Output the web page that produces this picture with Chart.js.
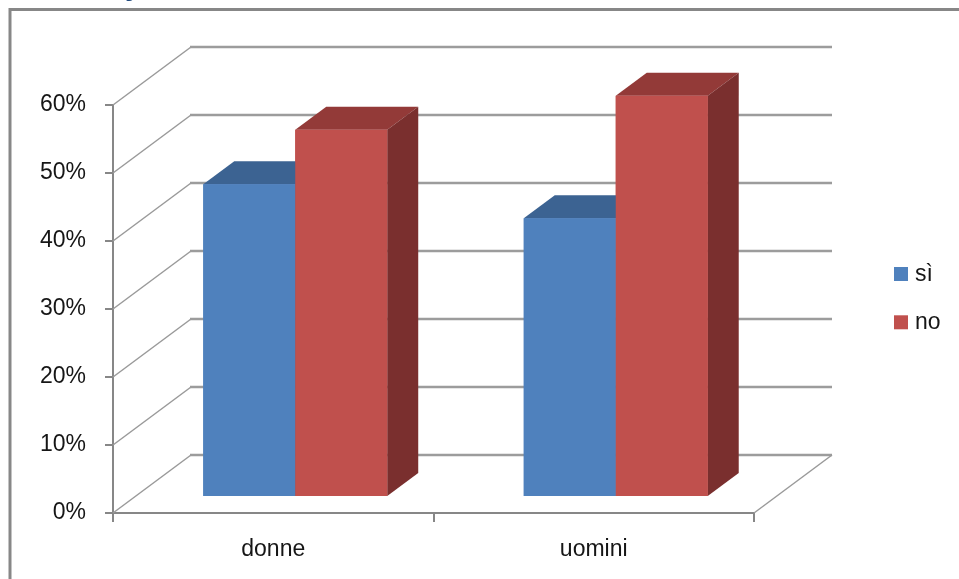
<!DOCTYPE html>
<html>
<head>
<meta charset="utf-8">
<script src="https://cdn.jsdelivr.net/npm/chart.js@4.4.1/dist/chart.umd.min.js"></script>
<style>
  html, body { margin: 0; padding: 0; background: #fff; }
  canvas { display: block; }
</style>
</head>
<body>
<canvas id="c" width="959" height="579"></canvas>
<script>
// Categories and series (percent of answers)
const categories = ['donne', 'uomini'];
const seriesLabels = ['sì', 'no'];
const siValues = [46, 41];
const noValues = [54, 59];

// Value axis: 0% .. 60% in steps of 10
const yMin = 0;
const yMax = 60;
const yStep = 10;
const tickSuffix = '%';

// Colours: front, top and side faces of each series
const frontColors = ['#4F81BD', '#C0504D'];
const topColors   = ['#3C6392', '#933A38'];
const sideColors  = ['#385D8A', '#7A2F2E'];

// Oblique projection offsets (pixels)
const wall = { dx: 78, dy: -58 };     // back wall relative to the front axes
const barShift = { dx: 22, dy: -16 }; // plane of the bar fronts
const barDepth = { dx: 31, dy: -23 }; // thickness of each column

const FONT = '"Liberation Sans", Arial, sans-serif';
const TEXT = '#161616';
const AXIS = '#878787';

const box3d = {
  id: 'box3d',
  beforeDraw(chart) {
    const ctx = chart.ctx;
    ctx.save();
    ctx.fillStyle = '#fff';
    ctx.fillRect(0, 0, chart.width, chart.height);
    // outer chart frame
    ctx.strokeStyle = '#878787';
    ctx.lineWidth = 3;
    ctx.strokeRect(10, 9.5, chart.width + 20, chart.height + 20);
    // tail of the title line above the frame
    ctx.fillStyle = '#1F497D';
    ctx.font = 'bold 30px ' + FONT;
    ctx.textBaseline = 'alphabetic';
    ctx.fillText('y', 125, -5);
    ctx.restore();
  },
  beforeDatasetsDraw(chart) {
    const { ctx, chartArea: a, scales: { y } } = chart;
    ctx.save();
    ctx.lineCap = 'butt';
    y.ticks.forEach(t => {
      const py = Math.round(y.getPixelForValue(t.value));
      // side wall diagonal
      ctx.strokeStyle = '#9a9a9a';
      ctx.lineWidth = 1.5;
      ctx.beginPath();
      ctx.moveTo(a.left, py);
      ctx.lineTo(a.left + wall.dx, py + wall.dy);
      ctx.stroke();
      // back wall gridline
      ctx.strokeStyle = '#9c9c9c';
      ctx.lineWidth = 2.5;
      ctx.beginPath();
      ctx.moveTo(a.left + wall.dx - 1, py + wall.dy);
      ctx.lineTo(a.right + wall.dx, py + wall.dy);
      ctx.stroke();
    });
    // right edge of the floor
    const p0 = y.getPixelForValue(yMin);
    ctx.strokeStyle = '#9a9a9a';
    ctx.lineWidth = 1.5;
    ctx.beginPath();
    ctx.moveTo(a.right, p0);
    ctx.lineTo(a.right + wall.dx, p0 + wall.dy);
    ctx.stroke();
    ctx.restore();

    // columns stand in a plane behind the front axes
    ctx.save();
    ctx.translate(barShift.dx, barShift.dy);
  },
  afterDatasetsDraw(chart) {
    const ctx = chart.ctx;
    chart.data.datasets.forEach((ds, i) => {
      const meta = chart.getDatasetMeta(i);
      meta.data.forEach(bar => {
        const p = bar.getProps(['x', 'y', 'base', 'width'], true);
        const l = p.x - p.width / 2, r = p.x + p.width / 2;
        const t = Math.min(p.y, p.base), b = Math.max(p.y, p.base);
        // top face
        ctx.fillStyle = topColors[i];
        ctx.beginPath();
        ctx.moveTo(l, t);
        ctx.lineTo(r, t);
        ctx.lineTo(r + barDepth.dx, t + barDepth.dy);
        ctx.lineTo(l + barDepth.dx, t + barDepth.dy);
        ctx.closePath();
        ctx.fill();
        // right side face
        ctx.fillStyle = sideColors[i];
        ctx.beginPath();
        ctx.moveTo(r, t);
        ctx.lineTo(r + barDepth.dx, t + barDepth.dy);
        ctx.lineTo(r + barDepth.dx, b + barDepth.dy);
        ctx.lineTo(r, b);
        ctx.closePath();
        ctx.fill();
        // front face on top
        ctx.fillStyle = frontColors[i];
        ctx.fillRect(l, t, r - l, b - t);
      });
    });
    ctx.restore();
  },
  afterDraw(chart) {
    const ctx = chart.ctx;
    ctx.save();
    ctx.font = '23px ' + FONT;
    ctx.textBaseline = 'alphabetic';
    ctx.textAlign = 'left';
    chart.data.datasets.forEach((ds, i) => {
      const top = 267 + i * 48.3;
      ctx.fillStyle = ds.backgroundColor;
      ctx.fillRect(894, top, 14, 14);
      ctx.fillStyle = TEXT;
      ctx.fillText(ds.label, 915, top + 14);
    });
    ctx.restore();
  }
};

new Chart(document.getElementById('c'), {
  type: 'bar',
  data: {
    labels: categories,
    datasets: [
      { label: seriesLabels[0], data: siValues, backgroundColor: frontColors[0], borderWidth: 0, clip: false },
      { label: seriesLabels[1], data: noValues, backgroundColor: frontColors[1], borderWidth: 0, clip: false }
    ]
  },
  options: {
    responsive: false,
    devicePixelRatio: 1,
    animation: false,
    events: [],
    categoryPercentage: 0.574,
    barPercentage: 1.0,
    layout: { padding: { left: 0, top: 105, right: 205, bottom: 0 } },
    plugins: {
      legend: { display: false },
      tooltip: { enabled: false },
      title: { display: false }
    },
    scales: {
      x: {
        offset: true,
        grid: {
          offset: true,
          drawOnChartArea: false,
          drawTicks: true,
          tickLength: 9,
          color: AXIS,
          lineWidth: 2
        },
        border: { display: true, color: AXIS, width: 2 },
        ticks: {
          color: TEXT,
          font: { family: FONT, size: 23 },
          padding: 14,
          maxRotation: 0
        },
        afterFit(scale) { scale.height = 66; }
      },
      y: {
        min: yMin,
        max: yMax,
        grid: {
          drawOnChartArea: false,
          drawTicks: true,
          tickLength: 8,
          color: AXIS,
          lineWidth: 2
        },
        border: { display: true, color: AXIS, width: 2 },
        ticks: {
          stepSize: yStep,
          color: TEXT,
          font: { family: FONT, size: 23 },
          padding: 19,
          callback: v => v + tickSuffix
        },
        afterFit(scale) { scale.width = 113; }
      }
    }
  },
  plugins: [box3d]
});
</script>
</body>
</html>
